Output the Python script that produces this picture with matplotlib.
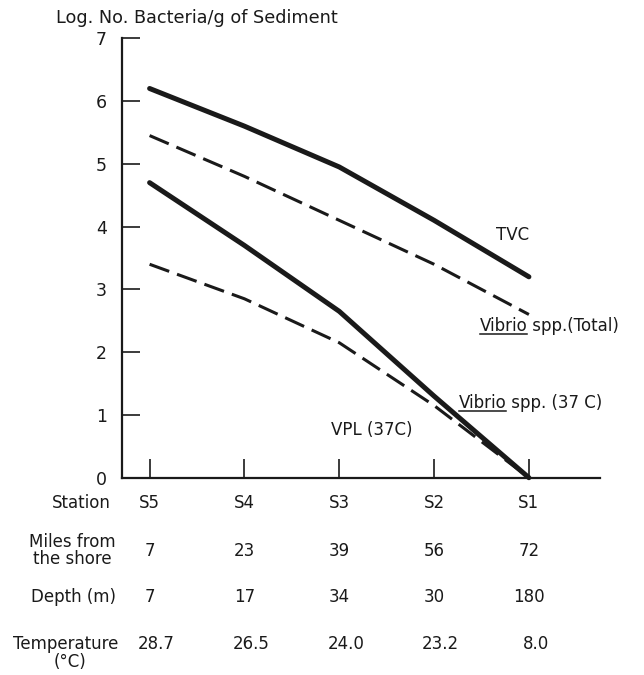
import matplotlib
matplotlib.use("Agg")
import matplotlib.pyplot as plt
from matplotlib.lines import Line2D
from matplotlib.transforms import IdentityTransform

# Station table
stations = ["S5", "S4", "S3", "S2", "S1"]
miles_from_shore = ["7", "23", "39", "56", "72"]
depth_m = ["7", "17", "34", "30", "180"]
temperature_c = ["28.7", "26.5", "24.0", "23.2", "8.0"]

# Log number of bacteria per gram of sediment at each station
tvc = [6.2, 5.6, 4.95, 4.1, 3.2]
vibrio_total = [5.45, 4.8, 4.1, 3.4, 2.6]
vibrio_37c = [4.7, 3.7, 2.65, 1.3, 0.0]
vpl_37c = [3.4, 2.85, 2.15, 1.15, 0.0]

y_ticks = [0, 1, 2, 3, 4, 5, 6, 7]

plt.rcParams['font.family'] = ['DejaVu Sans']
plt.rcParams['lines.scale_dashes'] = False

ink = '#1a1a1a'
fs = 12

fig = plt.figure(figsize=(6.44, 6.75), dpi=100)
ax = fig.add_axes([0.1899, 0.2923, 0.7418, 0.651])

xs = list(range(len(stations)))
solid_kw = dict(color=ink, lw=3.6, solid_capstyle='round', solid_joinstyle='round', clip_on=False)
dash_kw = dict(color=ink, lw=2.2, dashes=(15, 6), dash_capstyle='butt', clip_on=False)

ax.plot(xs, tvc, **solid_kw)
ax.plot(xs, vibrio_total, **dash_kw)
ax.plot(xs, vibrio_37c, **solid_kw)
ax.plot(xs, vpl_37c, **dash_kw)

ax.set_xlim(-0.288, 4.75)
ax.set_ylim(0, 7)
for side in ('top', 'right'):
    ax.spines[side].set_visible(False)
for side in ('left', 'bottom'):
    ax.spines[side].set_linewidth(1.6)
    ax.spines[side].set_color(ink)

ax.set_yticks(y_ticks)
ax.set_yticklabels([str(v) for v in y_ticks])
ax.tick_params(axis='y', direction='in', length=13, width=1.2, pad=11,
               labelsize=12.5, colors=ink)
ax.set_xticks(xs)
ax.set_xticklabels([])
ax.tick_params(axis='x', direction='in', length=14, width=1.2, colors=ink)

fig.text(56 / 644, 1 - 18 / 675, "Log. No. Bacteria/g of Sediment",
         ha='left', va='center', fontsize=12.7, color=ink)

# Table rows under the axis
row_y = {'station': -0.40, 'miles': -1.16, 'depth': -1.90, 'temp': -2.65}
txt_kw = dict(fontsize=fs, color=ink, va='center', clip_on=False)

ax.text(-0.72, row_y['station'], "Station", ha='center', **txt_kw)
ax.text(-0.81, row_y['miles'], "Miles from\nthe shore", ha='center',
        linespacing=0.95, **txt_kw)
ax.text(-0.80, row_y['depth'], "Depth (m)", ha='center', **txt_kw)
ax.text(-0.88, row_y['temp'], "Temperature", ha='center', **txt_kw)
ax.text(-0.84, row_y['temp'] - 0.28, "(°C)", ha='center', **txt_kw)

for i in xs:
    ax.text(i, row_y['station'], stations[i], ha='center', **txt_kw)
    ax.text(i, row_y['miles'], miles_from_shore[i], ha='center', **txt_kw)
    ax.text(i, row_y['depth'], depth_m[i], ha='center', **txt_kw)
    ax.text(i + 0.07, row_y['temp'], temperature_c[i], ha='center', **txt_kw)

# Curve labels
ax.text(3.83, 3.86, "TVC", ha='center', **txt_kw)
ax.text(1.91, 0.76, "VPL (37C)", ha='left', **txt_kw)

underlined = []
t1 = ax.text(3.48, 2.42, "Vibrio", ha='left', **txt_kw)
ax.annotate(" spp.(Total)", xy=(1, 0.5), xycoords=t1, ha='left', va='center',
            fontsize=fs, color=ink)
t2 = ax.text(3.26, 1.19, "Vibrio", ha='left', **txt_kw)
ax.annotate(" spp. (37 C)", xy=(1, 0.5), xycoords=t2, ha='left', va='center',
            fontsize=fs, color=ink)

fig.canvas.draw()
renderer = fig.canvas.get_renderer()
for t in (t1, t2):
    bb = t.get_window_extent(renderer)
    fig.add_artist(Line2D([bb.x0, bb.x1], [bb.y0 + 1, bb.y0 + 1],
                          transform=IdentityTransform(), color=ink, lw=1.1))

fig.savefig("out.png", dpi=100, facecolor='white')
